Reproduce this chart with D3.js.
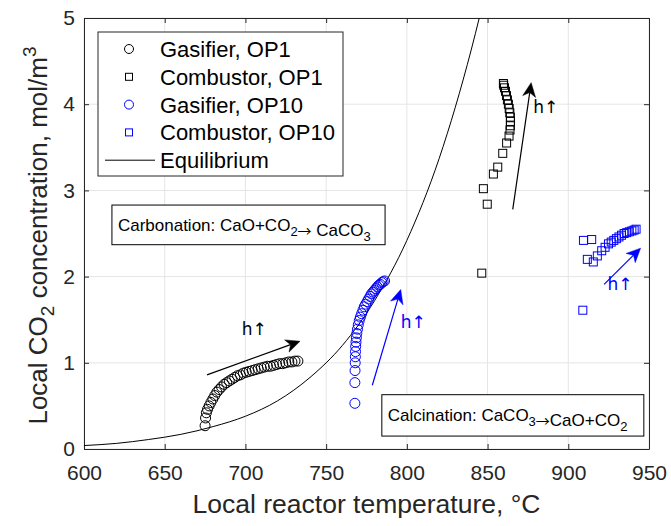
<!DOCTYPE html>
<html>
<head>
<meta charset="utf-8">
<script src="https://cdn.jsdelivr.net/npm/d3@7"></script>
<style>
  body { margin: 0; background: #fff; }
  svg { font-family: "Liberation Sans", Arial, sans-serif; }
  .sym { font-family: "Noto Sans CJK JP", "DejaVu Sans", sans-serif; }
  .hup { font-family: "DejaVu Sans", sans-serif; }
</style>
</head>
<body>
<svg id="chart"></svg>
<script>
// ---- data ----
const xTicks = [600, 650, 700, 750, 800, 850, 900, 950];
const yTicks = [0, 1, 2, 3, 4, 5];

// [temperature degC, CO2 concentration mol/m3]
const gasifierOP1 = [
  [675.0,0.27],[675.3,0.36],[675.8,0.42],[676.5,0.46],[677.5,0.50],[678.6,0.54],[679.8,0.58],
  [681.0,0.62],[682.3,0.66],[683.7,0.69],[685.2,0.72],[686.8,0.75],[688.4,0.77],[690.0,0.79],
  [691.7,0.81],[693.4,0.83],[695.1,0.85],[696.9,0.86],[698.7,0.88],[700.5,0.89],[702.3,0.90],
  [704.2,0.91],[706.0,0.92],[707.9,0.93],[709.8,0.94],[711.7,0.95],[713.6,0.96],[715.5,0.96],
  [717.4,0.97],[719.3,0.98],[721.2,0.99],[723.1,0.99],[725.0,1.00],[726.9,1.01],[728.8,1.01],
  [730.7,1.02],[732.5,1.02]
];
const combustorOP1 = [
  [846.4,2.04],[849.8,2.84],[847.4,3.02],[853.6,3.19],[856.3,3.27],[859.4,3.43],[861.8,3.55],
  [863.3,3.63],[863.9,3.70],[864.1,3.75],[864.2,3.80],[864.1,3.85],[863.8,3.90],[863.4,3.95],
  [862.9,4.00],[862.3,4.05],[861.7,4.10],[861.1,4.15],[860.5,4.19],[860.0,4.22],[859.8,4.24]
];
const gasifierOP10 = [
  [767.8,0.53],[767.8,0.77],[767.9,0.91],[768.0,1.00],[768.1,1.07],[768.2,1.13],[768.3,1.19],
  [768.5,1.24],[768.7,1.29],[769.0,1.34],[769.4,1.39],[769.9,1.44],[770.5,1.49],[771.2,1.53],
  [772.0,1.57],[772.8,1.61],[773.6,1.65],[774.5,1.68],[775.4,1.71],[776.3,1.74],[777.2,1.77],
  [778.1,1.80],[779.0,1.82],[779.9,1.84],[780.8,1.86],[781.7,1.88],[782.6,1.90],[783.5,1.91],
  [784.4,1.93],[785.3,1.94],[786.2,1.95]
];
const combustorOP10 = [
  [909.0,1.61],[909.4,2.42],[914.5,2.43],[911.8,2.20],[915.5,2.17],[918.0,2.24],[920.7,2.30],
  [922.8,2.34],[924.9,2.38],[926.6,2.40],[928.2,2.42],[929.8,2.44],[931.4,2.46],[933.0,2.48],
  [934.6,2.50],[936.2,2.51],[937.8,2.52],[939.4,2.53],[940.8,2.54],[942.0,2.55]
];
const equilibrium = [
  [600,0.04],[620,0.065],[640,0.11],[660,0.17],[680,0.26],[700,0.38],[720,0.56],
  [740,0.83],[760,1.20],[780,1.72],[800,2.42],[820,3.37],[840,4.64],[850,5.40]
];

// trend arrows: [startT, startC, tipT, tipC, colour]
const arrows = [
  [676.2, 0.86, 733.8, 1.25, '#000'],
  [778.6, 0.74, 796.2, 1.85, '#0000ff'],
  [865.6, 2.78, 877.0, 4.25, '#000'],
  [922.2, 1.91, 944.8, 2.33, '#0000ff']
];
// arrow labels: [T, C, colour]
const arrowLabels = [
  [705.5, 1.32, '#000'],
  [804.0, 1.40, '#0000ff'],
  [886.0, 3.90, '#000'],
  [932.0, 1.85, '#0000ff']
];

const legendItems = [
  { label: 'Gasifier, OP1', type: 'circle', color: '#000' },
  { label: 'Combustor, OP1', type: 'square', color: '#000' },
  { label: 'Gasifier, OP10', type: 'circle', color: '#0000ff' },
  { label: 'Combustor, OP10', type: 'square', color: '#0000ff' },
  { label: 'Equilibrium', type: 'line', color: '#000' }
];

// ---- layout ----
const W = 671, H = 526;
const margin = { top: 18, right: 22, bottom: 77, left: 84 };
const width = W - margin.left - margin.right;
const height = H - margin.top - margin.bottom;
const axisColor = '#262626';

const svg = d3.select('#chart').attr('width', W).attr('height', H);
const chart = svg.append('g').attr('transform', `translate(${margin.left},${margin.top})`);

const x = d3.scaleLinear().domain([600, 950]).range([0, width]);
const y = d3.scaleLinear().domain([0, 5]).range([height, 0]);

svg.append('defs').append('clipPath').attr('id', 'clip')
  .append('rect').attr('width', width).attr('height', height);

// grid
chart.append('g').selectAll('line').data(xTicks).join('line')
  .attr('x1', d => x(d)).attr('x2', d => x(d)).attr('y1', 0).attr('y2', height)
  .attr('stroke', '#e5e5e5').attr('stroke-width', 1);
chart.append('g').selectAll('line').data(yTicks).join('line')
  .attr('x1', 0).attr('x2', width).attr('y1', d => y(d)).attr('y2', d => y(d))
  .attr('stroke', '#e5e5e5').attr('stroke-width', 1);

// axes
function styleAxis(g, labels) {
  g.selectAll('path.domain').attr('stroke', axisColor);
  g.selectAll('.tick line').attr('stroke', axisColor);
  g.selectAll('.tick text').attr('fill', axisColor).style('font-size', labels ? '21px' : '0px');
}
chart.append('g').attr('transform', `translate(0,${height})`)
  .call(d3.axisBottom(x).tickValues(xTicks).tickSize(-5).tickSizeOuter(0).tickPadding(11))
  .call(g => styleAxis(g, true))
  .call(g => g.selectAll('.tick text').attr('dy', '0.95em'));
chart.append('g')
  .call(d3.axisTop(x).tickValues(xTicks).tickSize(-5).tickSizeOuter(0).tickFormat(''))
  .call(g => styleAxis(g, false));
chart.append('g')
  .call(d3.axisLeft(y).tickValues(yTicks).tickSize(-5).tickSizeOuter(0).tickPadding(9)
    .tickFormat(d3.format('d')))
  .call(g => styleAxis(g, true));
chart.append('g').attr('transform', `translate(${width},0)`)
  .call(d3.axisRight(y).tickValues(yTicks).tickSize(-5).tickSizeOuter(0).tickFormat(''))
  .call(g => styleAxis(g, false));

// equilibrium curve
const line = d3.line().x(d => x(d[0])).y(d => y(d[1])).curve(d3.curveMonotoneX);
chart.append('path').datum(equilibrium)
  .attr('clip-path', 'url(#clip)')
  .attr('d', line).attr('fill', 'none').attr('stroke', '#000').attr('stroke-width', 1);

// markers
function circles(data, color) {
  chart.append('g').selectAll('circle').data(data).join('circle')
    .attr('cx', d => x(d[0])).attr('cy', d => y(d[1])).attr('r', 5)
    .attr('fill', 'none').attr('stroke', color).attr('stroke-width', 1);
}
function squares(data, color) {
  const s = 8;
  chart.append('g').selectAll('rect').data(data).join('rect')
    .attr('x', d => x(d[0]) - s / 2).attr('y', d => y(d[1]) - s / 2)
    .attr('width', s).attr('height', s)
    .attr('fill', 'none').attr('stroke', color).attr('stroke-width', 1);
}
circles(gasifierOP1, '#000');
squares(combustorOP1, '#000');
circles(gasifierOP10, '#0000ff');
squares(combustorOP10, '#0000ff');

// arrows
arrows.forEach(a => {
  const x0 = x(a[0]), y0 = y(a[1]), x1 = x(a[2]), y1 = y(a[3]);
  const ang = Math.atan2(y1 - y0, x1 - x0);
  const L = 14, hw = 6.5, notch = 4;
  const ux = Math.cos(ang), uy = Math.sin(ang);
  const px = -uy, py = ux;
  const bx = x1 - ux * L, by = y1 - uy * L;
  const nx = x1 - ux * (L - notch), ny = y1 - uy * (L - notch);
  chart.append('line').attr('x1', x0).attr('y1', y0).attr('x2', nx).attr('y2', ny)
    .attr('stroke', a[4]).attr('stroke-width', 1.2);
  chart.append('path')
    .attr('d', `M${x1},${y1}L${bx + px * hw},${by + py * hw}L${nx},${ny}L${bx - px * hw},${by - py * hw}Z`)
    .attr('fill', a[4]).attr('stroke', a[4]).attr('stroke-width', 0.5);
});
arrowLabels.forEach(l => {
  chart.append('text').attr('class', 'hup').attr('x', x(l[0])).attr('y', y(l[1]))
    .attr('text-anchor', 'middle').attr('fill', l[2]).style('font-size', '17px')
    .text('h\u2191');
});

// annotation boxes
function reactionBox(T0, C0, T1, C1, parts) {
  const bx = x(T0), by = y(C0), bw = x(T1) - x(T0), bh = y(C1) - y(C0);
  chart.append('rect').attr('x', bx).attr('y', by).attr('width', bw).attr('height', bh)
    .attr('fill', '#fff').attr('stroke', '#000').attr('stroke-width', 1);
  const t = chart.append('text').attr('x', bx + 6).attr('y', by + 26)
    .attr('fill', '#000').style('font-size', '17px');
  parts.forEach(p => {
    if (p.sub) {
      t.append('tspan').attr('dy', 5).style('font-size', '13px').text(p.t);
      t.append('tspan').attr('dy', -5).text('');
    } else if (p.sym) {
      t.append('tspan').attr('class', 'sym').style('font-size', '14px').text(p.t);
    } else {
      t.append('tspan').text(p.t);
    }
  });
}
reactionBox(617.3, 2.83, 786.5, 2.37, [
  { t: 'Carbonation: CaO+CO' }, { t: '2', sub: true }, { t: '\u2192', sym: true },
  { t: ' CaCO' }, { t: '3', sub: true }
]);
reactionBox(784.5, 0.63, 946.8, 0.15, [
  { t: 'Calcination: CaCO' }, { t: '3', sub: true }, { t: '\u2192', sym: true },
  { t: 'CaO+CO' }, { t: '2', sub: true }
]);

// legend
const lg = svg.append('g').attr('transform', 'translate(98,32)');
lg.append('rect').attr('width', 245).attr('height', 144)
  .attr('fill', '#fff').attr('stroke', axisColor).attr('stroke-width', 1);
legendItems.forEach((d, i) => {
  const cy = 17 + i * 27.8;
  const row = lg.append('g').attr('transform', `translate(0,${cy})`);
  if (d.type === 'circle') {
    row.append('circle').attr('cx', 31).attr('cy', 0).attr('r', 4.5)
      .attr('fill', 'none').attr('stroke', d.color);
  } else if (d.type === 'square') {
    row.append('rect').attr('x', 27.5).attr('y', -3.5).attr('width', 7).attr('height', 7)
      .attr('fill', 'none').attr('stroke', d.color);
  } else {
    row.append('line').attr('x1', 7).attr('x2', 57).attr('y1', 0).attr('y2', 0)
      .attr('stroke', d.color);
  }
  row.append('text').attr('x', 62).attr('y', 8).style('font-size', '22px')
    .attr('fill', '#000').text(d.label);
});

// axis titles
svg.append('text').attr('x', margin.left + width / 2).attr('y', 513)
  .attr('text-anchor', 'middle').attr('fill', axisColor).style('font-size', '26.5px')
  .text('Local reactor temperature, \u00B0C');
const yt = svg.append('text').attr('transform', `translate(47,${margin.top + height / 2 + 2}) rotate(-90)`)
  .attr('text-anchor', 'middle').attr('fill', axisColor).style('font-size', '26px');
yt.append('tspan').text('Local CO');
yt.append('tspan').attr('dy', 7).style('font-size', '19px').text('2');
yt.append('tspan').attr('dy', -7).text(' concentration, mol/m');
yt.append('tspan').attr('dy', -11).style('font-size', '19px').text('3');
</script>
</body>
</html>
